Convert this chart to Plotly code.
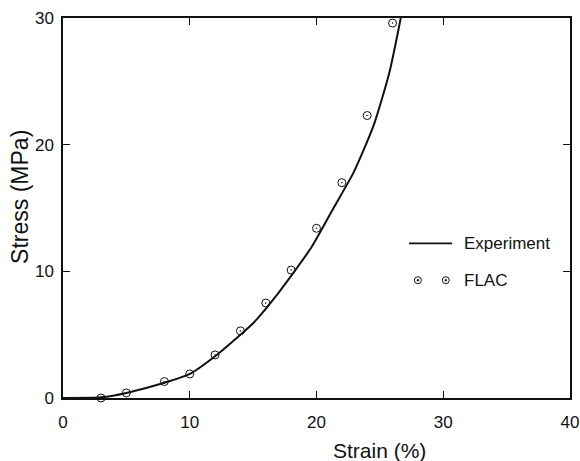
import plotly.graph_objects as go

# ---- data ----
exp_strain = [0, 3, 5, 8, 10, 12, 14, 15, 17, 19.6, 21.4, 22.9, 24.5, 25.75, 26.65]
exp_stress = [0, 0.05, 0.4, 1.2, 1.9, 3.3, 5.0, 5.9, 8.3, 11.9, 15.1, 17.75, 21.5, 25.7, 30]

flac_strain = [3, 5, 8, 10, 12, 14, 16, 18, 20, 22, 24, 26]
flac_stress = [0, 0.4, 1.3, 1.9, 3.4, 5.3, 7.5, 10.1, 13.4, 17.0, 22.3, 29.6]

x_ticks = [0, 10, 20, 30, 40]
y_ticks = [0, 10, 20, 30]

FONT = "Liberation Sans, Arial, Helvetica, sans-serif"
INK = "#111111"

fig = go.Figure()
fig.add_trace(go.Scatter(
    x=exp_strain, y=exp_stress, mode="lines", name="Experiment",
    line=dict(color=INK, width=2, shape="spline", smoothing=0.6),
    showlegend=False, cliponaxis=True,
))
fig.add_trace(go.Scatter(
    x=flac_strain, y=flac_stress, mode="markers", name="FLAC",
    marker=dict(symbol="circle-open-dot", size=8, color=INK, line=dict(width=1, color=INK)),
    showlegend=False, cliponaxis=False,
))

axis_common = dict(
    showline=True, linecolor=INK, linewidth=1.5, mirror="ticks",
    ticks="inside", ticklen=7, tickwidth=1.3, tickcolor=INK,
    showgrid=False, zeroline=False, automargin=False,
    ticklabeloverflow="allow",
    tickfont=dict(family=FONT, size=17, color=INK),
)

fig.update_xaxes(range=[0, 40], tickvals=x_ticks, ticklabelstandoff=8, **axis_common)
fig.update_yaxes(range=[0, 30], tickvals=y_ticks, ticklabelstandoff=4, **axis_common)

# ---- manual legend (line sample + two marker samples) ----
leg_line_y = 12.2
leg_mark_y = 9.3
leg_text_x = 31.5
shapes = [
    dict(type="line", xref="x", yref="y", x0=27.3, x1=30.7, y0=leg_line_y, y1=leg_line_y,
         line=dict(color=INK, width=1.8)),
]
for mx in (28.0, 30.2):
    shapes.append(dict(type="circle", xref="x", yref="y", xsizemode="pixel", ysizemode="pixel",
                       xanchor=mx, yanchor=leg_mark_y, x0=-3.5, x1=3.5, y0=-3.5, y1=3.5,
                       line=dict(color=INK, width=1)))
    shapes.append(dict(type="circle", xref="x", yref="y", xsizemode="pixel", ysizemode="pixel",
                       xanchor=mx, yanchor=leg_mark_y, x0=-1, x1=1, y0=-1, y1=1,
                       fillcolor=INK, line=dict(color=INK, width=0.5)))

annotations = [
    dict(text="Experiment", x=leg_text_x, y=leg_line_y, xref="x", yref="y", xanchor="left",
         yanchor="middle", showarrow=False, font=dict(family=FONT, size=17, color=INK)),
    dict(text="FLAC", x=leg_text_x, y=leg_mark_y, xref="x", yref="y", xanchor="left",
         yanchor="middle", showarrow=False, font=dict(family=FONT, size=17, color=INK)),
    dict(text="Strain (%)", x=0.625, y=-0.138, xref="paper", yref="paper", xanchor="center",
         yanchor="middle", showarrow=False, font=dict(family=FONT, size=21, color=INK)),
    dict(text="Stress (MPa)", x=-0.085, y=0.529, xref="paper", yref="paper", xanchor="center",
         yanchor="middle", textangle=-90, showarrow=False,
         font=dict(family=FONT, size=23, color=INK)),
]

fig.update_layout(
    width=580, height=461,
    margin=dict(l=63, r=10, t=18, b=63, autoexpand=False),
    paper_bgcolor="white", plot_bgcolor="white",
    shapes=shapes, annotations=annotations,
    showlegend=False,
)

# remove the default 8px page margin so the 580x461 figure fills the window exactly
fig.write_html(
    "out.html",
    config={"displayModeBar": False},
    post_script="document.body.style.margin='0';document.body.style.overflow='hidden';",
)
